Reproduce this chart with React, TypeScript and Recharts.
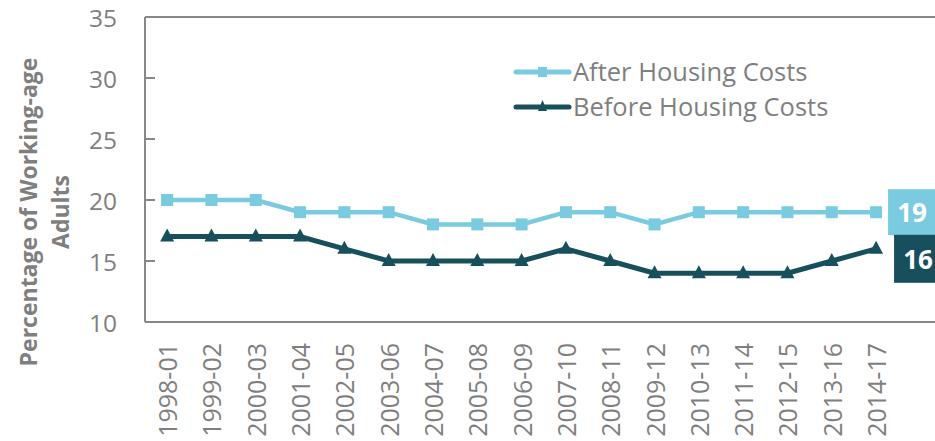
import React from "react";
import { LineChart, Line, XAxis, YAxis, ReferenceLine } from "recharts";

const categories = ["1998-01","1999-02","2000-03","2001-04","2002-05","2003-06","2004-07","2005-08","2006-09","2007-10","2008-11","2009-12","2010-13","2011-14","2012-15","2013-16","2014-17"];
const afterHousing = [20,20,20,19,19,19,18,18,18,19,19,18,19,19,19,19,19];
const beforeHousing = [17,17,17,17,16,15,15,15,15,16,15,14,14,14,14,15,16];
const yTicks = [10,15,20,25,30,35];

const LIGHT = "#7ACBE0";
const DARK = "#17505C";
const GRAY = "#7F7F7F";
const AXIS = "#878787";
const FONT = "'Open Sans', sans-serif";

const data = categories.map((c, i) => ({ idx: i, cat: c, ahc: afterHousing[i], bhc: beforeHousing[i] }));
const last = categories.length - 1;

const YTick = (props: any) => {
  const { x, y, payload } = props;
  return (
    <g>
      <line x1={x + 28} x2={x + 38} y1={y} y2={y} stroke={AXIS} strokeWidth={2} />
      <text x={x} y={y} textAnchor="end" dominantBaseline="central" fill={GRAY} fontSize={24.5} fontFamily={FONT}>{payload.value}</text>
    </g>
  );
};

const XTick = (props: any) => {
  const { x, y, payload } = props;
  const label = categories[payload.value] ?? "";
  return (
    <text x={x} y={y} transform={`rotate(-90, ${x}, ${y})`} textAnchor="end" dominantBaseline="central" fill={GRAY} fontSize={25} fontFamily={FONT}>{label}</text>
  );
};

const YTitle = () => (
  <g transform="translate(44, 212) rotate(-90)">
    <text x={0} y={-16} textAnchor="middle" dominantBaseline="central" fill={GRAY} fontSize={23} fontWeight="bold" fontFamily={FONT}>Percentage of Working-age</text>
    <text x={0} y={16} textAnchor="middle" dominantBaseline="central" fill={GRAY} fontSize={23} fontWeight="bold" fontFamily={FONT}>Adults</text>
  </g>
);

const EndLabel = (color: string, dx: number, dyTop: number, dyBottom: number) => (props: any) => {
  const { x, y, index, value } = props;
  if (index !== last) return null;
  const top = y + dyTop;
  const h = dyBottom - dyTop;
  return (
    <g>
      <rect x={x + dx} y={top} width={80} height={h} fill={color} />
      <text x={x + dx + 24} y={top + h / 2} textAnchor="middle" dominantBaseline="central" fill="#FFFFFF" fontSize={26} fontWeight="bold" fontFamily={FONT}>{value}</text>
    </g>
  );
};

const Square = (props: any) => {
  const { cx, cy } = props;
  return <rect x={cx - 6} y={cy - 6} width={12} height={12} fill={LIGHT} />;
};
const Triangle = (props: any) => {
  const { cx, cy } = props;
  return <polygon points={`${cx},${cy - 8} ${cx + 7},${cy + 5} ${cx - 7},${cy + 5}`} fill={DARK} />;
};

const legendItems = [
  { name: "After Housing Costs", color: LIGHT, sq: true },
  { name: "Before Housing Costs", color: DARK, sq: false },
];

const LegendBox = () => (
  <div style={{ position: "absolute", left: 513, top: 54, fontFamily: FONT, fontSize: 25.5, color: GRAY, lineHeight: "35px" }}>
    {legendItems.map((it) => (
      <div key={it.name} style={{ display: "flex", alignItems: "center", whiteSpace: "nowrap" }}>
        <svg width={60} height={20} style={{ display: "block" }}>
          <line x1={3} x2={56} y1={10} y2={10} stroke={it.color} strokeWidth={5} strokeLinecap="round" />
          {it.sq ? <rect x={25} y={5} width={9} height={10} fill={it.color} /> : <polygon points="29.5,3 34,14 25,14" fill={it.color} />}
        </svg>
        <span>{it.name}</span>
      </div>
    ))}
  </div>
);

export default function App() {
  return (
    <div style={{ position: "absolute", left: 0, top: 0, width: 935, height: 441, background: "#fff", overflow: "hidden" }}>
      <LineChart width={935} height={441} data={data} margin={{ top: 17, right: 0, bottom: 0, left: 0 }}>
        <XAxis
          dataKey="idx"
          type="number"
          domain={[-0.5, 17.33]}
          ticks={categories.map((_, i) => i)}
          allowDataOverflow
          height={119}
          tickLine={false}
          tickSize={0}
          tickMargin={21}
          axisLine={{ stroke: AXIS, strokeWidth: 2 }}
          tick={<XTick />}
          interval={0}
        />
        <YAxis
          domain={[10, 35]}
          ticks={yTicks}
          width={145}
          tickLine={false}
          tickSize={0}
          tickMargin={28}
          axisLine={{ stroke: AXIS, strokeWidth: 2 }}
          tick={<YTick />}
          interval={0}
          label={<YTitle />}
        />
        <ReferenceLine y={35} stroke={AXIS} strokeWidth={2} />
        <Line dataKey="ahc" name="After Housing Costs" stroke={LIGHT} strokeWidth={4.5} dot={<Square />} isAnimationActive={false} label={EndLabel(LIGHT, 12, -23, 23)} />
        <Line dataKey="bhc" name="Before Housing Costs" stroke={DARK} strokeWidth={5} dot={<Triangle />} isAnimationActive={false} label={EndLabel(DARK, 18, -14, 34)} />
      </LineChart>
      <LegendBox />
    </div>
  );
}
